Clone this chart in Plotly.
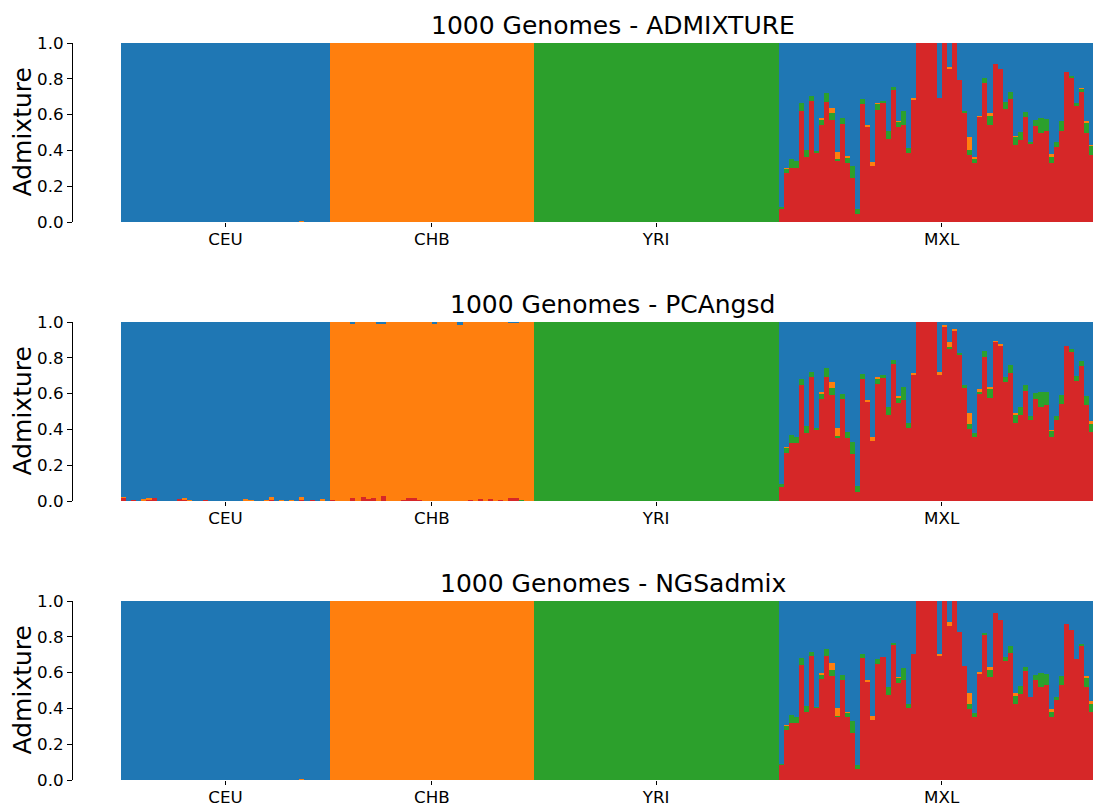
import plotly.graph_objects as go

# ---------------- data ----------------
POPS = ["CEU", "CHB", "YRI", "MXL"]
POP_SIZES = [41, 40, 48, 64]
PANEL_TITLES = ["1000 Genomes - ADMIXTURE", "1000 Genomes - PCAngsd", "1000 Genomes - NGSadmix"]
Y_TICKS = [0.0, 0.2, 0.4, 0.6, 0.8, 1.0]
Y_TICK_TEXT = ["0.0", "0.2", "0.4", "0.6", "0.8", "1.0"]

# ---- ADMIXTURE ----
ADM_CEU_RED = [0.0] * 41
ADM_CEU_ORANGE = [0, 0, 0, 0, 0, 0, 0, 0, 0, 0, 0, 0, 0, 0, 0, 0, 0, 0, 0, 0,
                  0, 0, 0, 0, 0, 0, 0, 0, 0, 0, 0, 0, 0, 0, 0, 0.005, 0, 0, 0, 0, 0]
ADM_CHB_RED = [0.0] * 40
ADM_CHB_GREEN = [0.0] * 40
ADM_CHB_BLUE = [0.0] * 40
ADM_MXL_RED = [0.074, 0.272, 0.304, 0.304, 0.622, 0.361, 0.676, 0.387, 0.540, 0.672,
               0.570, 0.343, 0.547, 0.331, 0.248, 0.045, 0.657, 0.536, 0.313, 0.626,
               0.667, 0.462, 0.737, 0.529, 0.542, 0.384, 0.685, 1.0, 1.0, 1.0,
               1.0, 0.695, 1.0, 0.858, 1.0, 0.795, 0.611, 0.374, 0.328, 0.590,
               0.777, 0.542, 0.883, 0.853, 0.629, 0.685, 0.430, 0.460, 0.585, 0.439,
               0.536, 0.495, 0.510, 0.331, 0.421, 0.510, 0.840, 0.806, 0.646, 0.728,
               0.497, 0.374, 0.40, 0.42]
ADM_MXL_GREEN = [0.011, 0.026, 0.048, 0.037, 0.041, 0.041, 0.028, 0.007, 0.034, 0.047,
                 0.041, 0.009, 0.032, 0.030, 0.065, 0.030, 0.028, 0.0, 0.0, 0.037,
                 0.009, 0.047, 0.015, 0.032, 0.078, 0.030, 0.0, 0, 0, 0,
                 0, 0, 0, 0, 0, 0, 0.009, 0.028, 0.026, 0.0,
                 0.026, 0.050, 0, 0, 0.039, 0.043, 0.045, 0.043, 0.030, 0.009,
                 0.034, 0.086, 0.065, 0.037, 0.028, 0.054, 0, 0.007, 0.019, 0.017,
                 0.054, 0.052, 0.04, 0.03]
ADM_MXL_ORANGE = [0, 0.005, 0, 0, 0, 0, 0, 0, 0.007, 0,
                  0.024, 0.037, 0, 0.007, 0, 0, 0, 0.006, 0.022, 0.004,
                  0, 0, 0, 0.006, 0, 0, 0.007, 0, 0, 0,
                  0, 0, 0, 0.007, 0, 0, 0, 0.073, 0.009, 0.004,
                  0, 0.017, 0, 0, 0, 0, 0.006, 0, 0, 0,
                  0, 0, 0, 0.011, 0, 0, 0, 0, 0, 0.006,
                  0.013, 0.006, 0, 0]

# ---- PCAngsd ----
PCA_CEU_RED = [0.019, 0, 0.006, 0, 0, 0.009, 0.019, 0, 0, 0,
               0, 0.009, 0.006, 0, 0, 0, 0.004, 0, 0, 0,
               0, 0, 0, 0, 0, 0, 0, 0, 0, 0.011,
               0, 0, 0, 0, 0, 0.006, 0, 0.006, 0, 0, 0]
PCA_CEU_ORANGE = [0.004, 0, 0, 0, 0.011, 0.009, 0, 0, 0, 0,
                  0, 0, 0.013, 0.006, 0, 0, 0, 0, 0, 0,
                  0, 0, 0, 0, 0.011, 0.006, 0, 0, 0.006, 0.009,
                  0, 0.007, 0, 0.005, 0, 0.019, 0, 0, 0, 0.009, 0]
PCA_CHB_RED = [0.006, 0, 0, 0, 0.019, 0, 0.022, 0.013, 0.015, 0,
               0.026, 0, 0, 0, 0.006, 0.017, 0.017, 0.006, 0, 0,
               0, 0, 0, 0, 0, 0, 0, 0.004, 0, 0.009,
               0, 0.013, 0, 0.006, 0, 0.015, 0.019, 0, 0, 0]
PCA_CHB_GREEN = [0, 0, 0, 0, 0, 0, 0, 0, 0, 0,
                 0, 0, 0, 0, 0, 0, 0, 0, 0, 0,
                 0, 0, 0, 0, 0, 0, 0, 0, 0, 0,
                 0, 0, 0, 0, 0, 0, 0, 0.007, 0, 0]
PCA_CHB_BLUE = [0, 0, 0, 0, 0.009, 0, 0, 0, 0, 0.009,
                0.009, 0, 0, 0, 0, 0, 0, 0, 0, 0,
                0.013, 0, 0, 0, 0, 0.015, 0, 0, 0, 0,
                0, 0, 0, 0, 0, 0.004, 0.004, 0, 0, 0]
PCA_MXL_RED = [0.076, 0.270, 0.322, 0.326, 0.648, 0.382, 0.691, 0.400, 0.570, 0.695,
               0.590, 0.356, 0.568, 0.354, 0.263, 0.052, 0.682, 0.555, 0.337, 0.654,
               0.687, 0.480, 0.764, 0.546, 0.564, 0.410, 0.704, 1, 1, 1,
               1, 0.704, 0.974, 0.853, 0.950, 0.821, 0.635, 0.404, 0.358, 0.601,
               0.804, 0.577, 0.890, 0.868, 0.665, 0.713, 0.436, 0.480, 0.613, 0.454,
               0.568, 0.527, 0.536, 0.356, 0.454, 0.544, 0.868, 0.830, 0.672, 0.756,
               0.536, 0.387, 0.41, 0.43]
PCA_MXL_GREEN = [0.019, 0.028, 0.047, 0.034, 0.034, 0.037, 0.032, 0.007, 0.032, 0.047,
                 0.039, 0.009, 0.028, 0.032, 0.067, 0.032, 0.030, 0, 0, 0.030,
                 0.015, 0.043, 0.024, 0.030, 0.071, 0.026, 0, 0, 0, 0,
                 0, 0, 0, 0.006, 0, 0.006, 0.011, 0.026, 0.020, 0.009,
                 0.032, 0.050, 0, 0, 0.030, 0.047, 0.045, 0.047, 0.034, 0.020,
                 0.034, 0.082, 0.073, 0.037, 0.020, 0.048, 0, 0.020, 0.028, 0.026,
                 0.050, 0.045, 0.04, 0.03]
PCA_MXL_ORANGE = [0, 0.006, 0, 0, 0, 0, 0, 0, 0.007, 0,
                  0.034, 0.043, 0, 0, 0, 0, 0, 0.009, 0.020, 0.007,
                  0, 0, 0, 0.009, 0, 0, 0.011, 0, 0, 0,
                  0, 0.015, 0.011, 0.030, 0.013, 0, 0, 0.061, 0, 0.015,
                  0, 0.011, 0.006, 0.011, 0, 0, 0.009, 0, 0, 0,
                  0, 0, 0, 0.006, 0, 0, 0, 0, 0, 0,
                  0, 0.015, 0, 0]

# ---- NGSadmix ----
NGS_CEU_RED = [0.0] * 41
NGS_CEU_ORANGE = [0, 0, 0, 0, 0, 0, 0, 0, 0, 0, 0, 0, 0, 0, 0, 0, 0, 0, 0, 0,
                  0, 0, 0, 0, 0, 0, 0, 0, 0, 0, 0, 0, 0, 0, 0, 0.005, 0, 0, 0, 0, 0]
NGS_CHB_RED = [0.0] * 40
NGS_CHB_GREEN = [0.0] * 40
NGS_CHB_BLUE = [0.0] * 40
NGS_MXL_RED = [0.086, 0.277, 0.320, 0.320, 0.644, 0.378, 0.691, 0.406, 0.566, 0.695,
               0.583, 0.356, 0.561, 0.352, 0.261, 0.061, 0.680, 0.553, 0.335, 0.648,
               0.687, 0.477, 0.756, 0.542, 0.561, 0.402, 0.706, 1, 1, 1,
               1, 0.696, 1, 0.860, 1, 0.829, 0.635, 0.399, 0.352, 0.594,
               0.808, 0.575, 0.933, 0.892, 0.663, 0.709, 0.426, 0.482, 0.611, 0.462,
               0.561, 0.518, 0.529, 0.352, 0.447, 0.533, 0.872, 0.838, 0.676, 0.754,
               0.520, 0.378, 0.40, 0.42]
NGS_MXL_GREEN = [0.006, 0.026, 0.045, 0.032, 0.037, 0.037, 0.024, 0.004, 0.026, 0.037,
                 0.034, 0.004, 0.026, 0.026, 0.067, 0.024, 0.024, 0, 0, 0.028,
                 0, 0.041, 0.009, 0.028, 0.065, 0.022, 0, 0, 0, 0,
                 0, 0, 0, 0, 0, 0, 0, 0.026, 0.022, 0,
                 0.013, 0.045, 0, 0, 0.024, 0.039, 0.047, 0.043, 0.020, 0,
                 0.026, 0.078, 0.063, 0.032, 0.019, 0.050, 0, 0, 0, 0.007,
                 0.052, 0.048, 0.04, 0.03]
NGS_MXL_ORANGE = [0, 0.006, 0, 0, 0, 0, 0, 0, 0.006, 0,
                  0.034, 0.043, 0, 0.004, 0, 0, 0, 0.006, 0.020, 0,
                  0, 0, 0, 0.006, 0, 0, 0, 0, 0, 0,
                  0, 0.007, 0, 0.022, 0, 0, 0, 0.061, 0, 0.009,
                  0, 0.011, 0, 0, 0, 0, 0.011, 0, 0, 0,
                  0, 0, 0, 0.011, 0, 0, 0, 0, 0, 0,
                  0.009, 0.015, 0, 0]

YRI_GREEN = [1.0] * 48
YRI_ZERO = [0.0] * 48

# ---------------- styling ----------------
C_BLUE, C_ORANGE, C_GREEN, C_RED = "#1f77b4", "#ff7f0e", "#2ca02c", "#d62728"
FONT = "DejaVu Sans"
W, H = 1093, 805
X_LEFT_PX = 121
Y_AXIS_PX = 72
PANEL_PX = [(43, 222), (322, 501), (601, 780)]
X_VISIBLE_END = 190.2


def rem(*cols):
    return [max(0.0, 1.0 - sum(v)) for v in zip(*cols)]


def build(ceu_red, ceu_orange, chb_red, chb_green, chb_blue, mxl_red, mxl_green, mxl_orange):
    ceu_green = [0.0] * len(ceu_red)
    red = ceu_red + chb_red + YRI_ZERO + mxl_red
    green = ceu_green + chb_green + YRI_GREEN + mxl_green
    orange = ceu_orange + rem(chb_red, chb_green, chb_blue) + YRI_ZERO + mxl_orange
    blue = rem(ceu_red, ceu_orange) + chb_blue + YRI_ZERO + rem(mxl_red, mxl_green, mxl_orange)
    return red, green, orange, blue


panels = [
    build(ADM_CEU_RED, ADM_CEU_ORANGE, ADM_CHB_RED, ADM_CHB_GREEN, ADM_CHB_BLUE,
          ADM_MXL_RED, ADM_MXL_GREEN, ADM_MXL_ORANGE),
    build(PCA_CEU_RED, PCA_CEU_ORANGE, PCA_CHB_RED, PCA_CHB_GREEN, PCA_CHB_BLUE,
          PCA_MXL_RED, PCA_MXL_GREEN, PCA_MXL_ORANGE),
    build(NGS_CEU_RED, NGS_CEU_ORANGE, NGS_CHB_RED, NGS_CHB_GREEN, NGS_CHB_BLUE,
          NGS_MXL_RED, NGS_MXL_GREEN, NGS_MXL_ORANGE),
]

n_total = sum(POP_SIZES)
xs = list(range(n_total))
centers = []
start = 0
for s in POP_SIZES:
    centers.append(start + (s - 1) / 2)
    start += s

fig = go.Figure()
layout = dict(
    width=W, height=H, margin=dict(l=0, r=0, t=0, b=0, autoexpand=False),
    paper_bgcolor="white", plot_bgcolor="white",
    barmode="stack", bargap=0, showlegend=False,
    font=dict(family=FONT, color="black", size=17),
)
annotations = []
x_dom = [X_LEFT_PX / W, 1.0]
x_center_px = X_LEFT_PX + (n_total / (X_VISIBLE_END + 0.5)) * (W - X_LEFT_PX) / 2

for k, (red, green, orange, blue) in enumerate(panels):
    idx = "" if k == 0 else str(k + 1)
    xa, ya = "x" + idx, "y" + idx
    for vals, col in ((red, C_RED), (green, C_GREEN), (orange, C_ORANGE), (blue, C_BLUE)):
        fig.add_trace(go.Bar(x=xs, y=vals, width=1.0, marker=dict(color=col, line=dict(width=0)),
                             xaxis=xa, yaxis=ya, hoverinfo="skip"))
    top_px, bot_px = PANEL_PX[k]
    y_dom = [1 - bot_px / H, 1 - top_px / H]
    layout["xaxis" + idx] = dict(
        domain=x_dom, anchor=ya, range=[-0.5, X_VISIBLE_END], automargin=False,
        tickmode="array", tickvals=centers, ticktext=POPS,
        ticks="outside", ticklen=4, tickwidth=1, tickcolor="black",
        ticklabelstandoff=-2,
        showline=False, showgrid=False, zeroline=False,
        tickfont=dict(family=FONT, size=16.7, color="black"),
    )
    layout["yaxis" + idx] = dict(
        domain=y_dom, anchor="free", position=Y_AXIS_PX / W, range=[0, 1], automargin=False,
        tickmode="array", tickvals=Y_TICKS, ticktext=Y_TICK_TEXT,
        ticks="outside", ticklen=5, tickwidth=1, tickcolor="black",
        showline=True, linecolor="black", linewidth=1,
        showgrid=False, zeroline=False,
        tickfont=dict(family=FONT, size=16.7, color="black"),
    )
    annotations.append(dict(
        text=PANEL_TITLES[k], xref="paper", yref="paper",
        x=x_center_px / W, y=y_dom[1], xanchor="center", yanchor="bottom", yshift=1,
        showarrow=False, font=dict(family=FONT, size=25, color="black"),
    ))
    annotations.append(dict(
        text="Admixture", xref="paper", yref="paper",
        x=22 / W, y=(y_dom[0] + y_dom[1]) / 2, xanchor="center", yanchor="middle",
        textangle=-90, showarrow=False, font=dict(family=FONT, size=25, color="black"),
    ))

layout["annotations"] = annotations
fig.update_layout(**layout)
fig.write_html("out.html")
